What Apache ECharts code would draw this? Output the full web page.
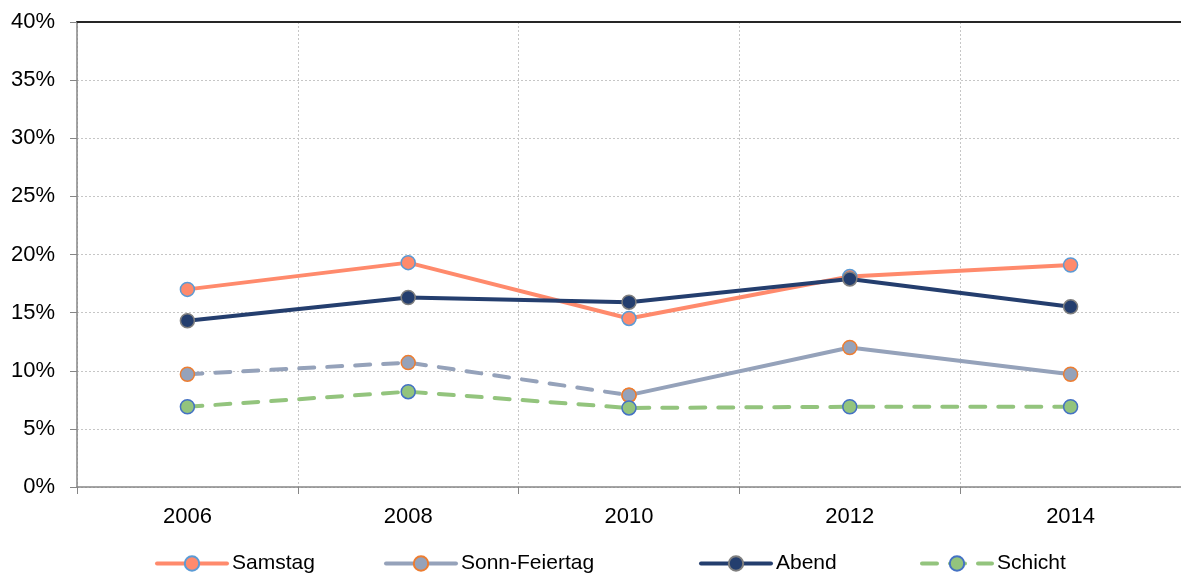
<!DOCTYPE html>
<html>
<head>
<meta charset="utf-8">
<script src="https://cdn.jsdelivr.net/npm/echarts@6/dist/echarts.min.js"></script>
<style>
  html, body { margin: 0; padding: 0; background: #fff; }
  #chart { width: 1181px; height: 577px; }
</style>
</head>
<body>
<div id="chart"></div>
<script>
  // data
  var years = ['2006', '2008', '2010', '2012', '2014'];
  var samstag = [17.0, 19.3, 14.5, 18.1, 19.1];
  var abend = [14.3, 16.3, 15.9, 17.9, 15.5];
  // Sonn-Feiertag: dashed up to 2010, solid afterwards
  var sonnDashed = [9.7, 10.7, 7.9, null, null];
  var sonnSolid = [null, null, 7.9, 12.0, 9.7];
  var schicht = [6.9, 8.2, 6.8, 6.9, 6.9];
  var yTicks = [0, 5, 10, 15, 20, 25, 30, 35, 40];

  var font = 'Liberation Sans, Arial, sans-serif';

  function lineSeries(name, data, color, fill, border, dashed) {
    return {
      name: name,
      type: 'line',
      data: data,
      symbol: 'circle',
      symbolSize: 14,
      connectNulls: false,
      lineStyle: {
        color: color,
        width: 4,
        type: dashed ? [15, 13] : 'solid',
        cap: 'round'
      },
      itemStyle: {
        color: fill,
        borderColor: border,
        borderWidth: 1.5
      },
      emphasis: { disabled: true }
    };
  }

  function legendAt(name, left) {
    return {
      data: [name],
      left: left,
      top: 553,
      padding: 0,
      itemWidth: 70,
      itemHeight: 18,
      itemGap: 0,
      lineStyle: { width: 4 },
      textStyle: { fontFamily: font, fontSize: 21, color: '#000' },
      selectedMode: false
    };
  }

  var chart = echarts.init(document.getElementById('chart'));
  chart.setOption({
    animation: false,
    grid: { left: 77, top: 22, right: 0, bottom: 90 },
    legend: [
      legendAt('Samstag', 155),
      legendAt('Sonn-Feiertag', 384),
      legendAt('Abend', 699),
      legendAt('Schicht', 920)
    ],
    xAxis: [{
      type: 'category',
      data: years,
      boundaryGap: true,
      axisLine: { lineStyle: { color: '#868686', width: 1.5 } },
      axisTick: { show: true, length: 7, inside: false, lineStyle: { color: '#868686' } },
      axisLabel: { fontFamily: font, fontSize: 22, color: '#000', margin: 19 },
      splitLine: { show: true, lineStyle: { color: '#c6c6c6', type: [2, 2] } }
    }, {
      type: 'category',
      data: years,
      position: 'top',
      axisLine: { show: true, lineStyle: { color: '#262626', width: 2 } },
      axisTick: { show: false },
      axisLabel: { show: false },
      splitLine: { show: false }
    }],
    yAxis: {
      type: 'value',
      min: yTicks[0],
      max: yTicks[yTicks.length - 1],
      interval: 5,
      axisLine: { show: true, lineStyle: { color: '#868686', width: 1.5 } },
      axisTick: { show: true, length: 7, lineStyle: { color: '#868686' } },
      axisLabel: {
        fontFamily: font, fontSize: 22, color: '#000', margin: 22,
        formatter: function (v) { return v + '%'; }
      },
      splitLine: { show: true, lineStyle: { color: '#c6c6c6', type: [2, 2] } }
    },
    series: [
      lineSeries('Samstag', samstag, '#FF8A6C', '#FF8A6C', '#5B9BD5', false),
      lineSeries('Sonn-Feiertag (gestrichelt)', sonnDashed, '#95A2BA', '#95A2BA', '#ED7D31', true),
      lineSeries('Sonn-Feiertag', sonnSolid, '#95A2BA', '#95A2BA', '#ED7D31', false),
      lineSeries('Abend', abend, '#243E6E', '#243E6E', '#7F7F7F', false),
      lineSeries('Schicht', schicht, '#93C47D', '#93C47D', '#4472C4', true)
    ]
  });
</script>
</body>
</html>
